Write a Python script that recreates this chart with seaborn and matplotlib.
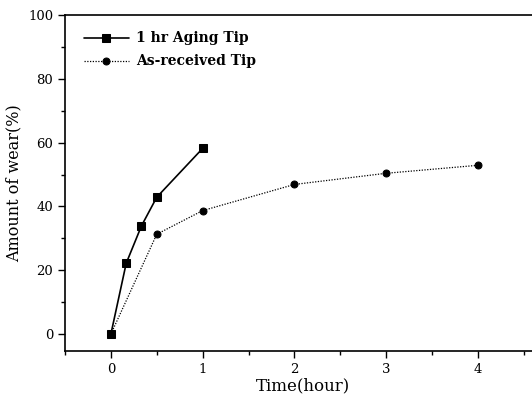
import matplotlib
matplotlib.use("Agg")
import matplotlib.pyplot as plt
import seaborn as sns
import pandas as pd
from matplotlib.ticker import MultipleLocator

aging_time = [0, 0.167, 0.333, 0.5, 1.0]
aging_wear = [0, 22.2, 33.9, 42.9, 58.2]
asrec_time = [0, 0.5, 1, 2, 3, 4]
asrec_wear = [0, 31.3, 38.7, 46.9, 50.4, 52.9]
labels = ["1 hr Aging Tip", "As-received Tip"]

sns.set_theme(style="ticks")
plt.rcParams['font.family'] = ['DejaVu Serif']
plt.rcParams['text.color'] = 'black'
plt.rcParams['axes.labelcolor'] = 'black'
plt.rcParams['xtick.color'] = 'black'
plt.rcParams['ytick.color'] = 'black'

df1 = pd.DataFrame({"t": aging_time, "w": aging_wear})
df2 = pd.DataFrame({"t": asrec_time, "w": asrec_wear})

fig = plt.figure(figsize=(5.32, 4.0), dpi=100)
ax = fig.add_axes([65/532, 1-351/400, (540-65)/532, (351-15)/400])

sns.lineplot(data=df1, x="t", y="w", ax=ax, color="black", lw=1.2,
             marker="s", markersize=6, markeredgecolor="black", label=labels[0])
sns.lineplot(data=df2, x="t", y="w", ax=ax, color="black", lw=0.9, linestyle=(0, (1, 1.2)),
             marker="o", markersize=5, markeredgecolor="black", label=labels[1])

ax.set_xlim(-0.5, (540-111)/91.75)
ax.set_ylim(-5.3, 100)
ax.xaxis.set_major_locator(MultipleLocator(1))
ax.xaxis.set_minor_locator(MultipleLocator(0.5))
ax.yaxis.set_major_locator(MultipleLocator(20))
ax.yaxis.set_minor_locator(MultipleLocator(10))
ax.tick_params(which="major", direction="out", length=5, width=1, labelsize=9.5, colors="black")
ax.tick_params(which="minor", direction="out", length=3, width=1, colors="black")
for s in ["left", "bottom", "top", "right"]:
    ax.spines[s].set_linewidth(1.2)
    ax.spines[s].set_color("black")
ax.set_xlabel("Time(hour)", fontsize=12, labelpad=1, color="black")
ax.set_ylabel("Amount of wear(%)", fontsize=11.5, labelpad=4, color="black")

leg = ax.legend(loc="upper left", frameon=False, prop={"weight": "bold", "size": 10},
                handlelength=3.2, borderaxespad=0.3, labelspacing=0.65, handletextpad=0.5,
                bbox_to_anchor=(0.02, 0.98))
for t in leg.get_texts():
    t.set_color("black")

fig.savefig("out.png", dpi=100)
